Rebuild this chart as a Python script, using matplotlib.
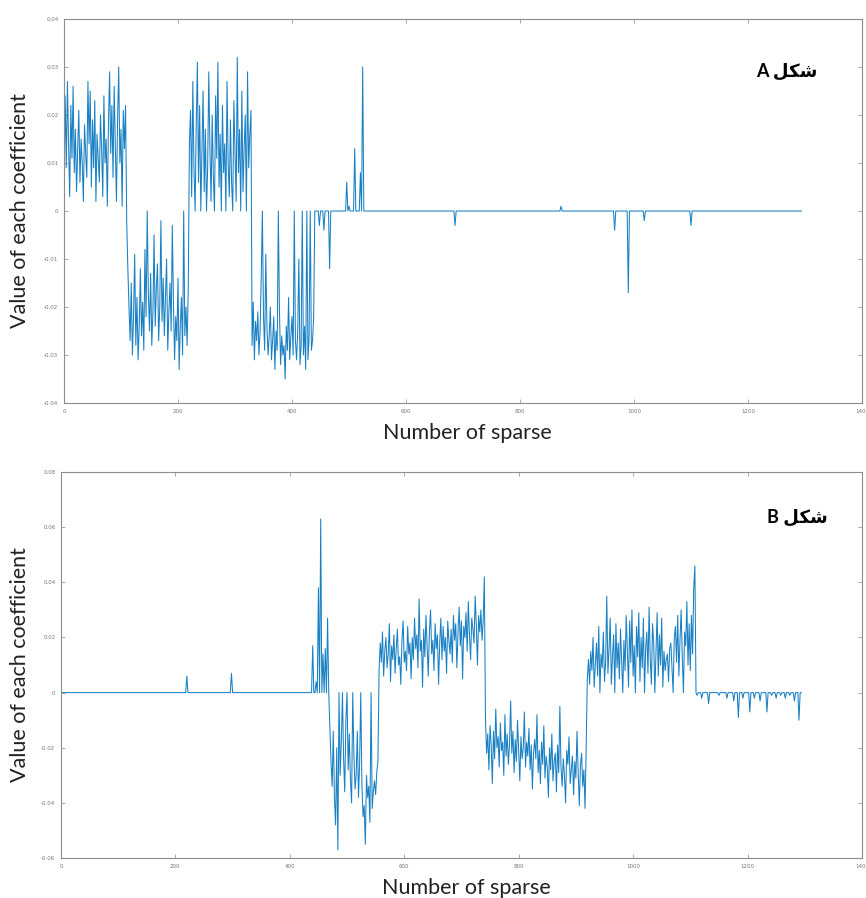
"""
sparse_coefficients.py
======================
Two panels showing the value of each sparse coefficient (A and B).
Values are in units of 1e-3 and were read by eye off the original figure.
Sample positions run on a grid of 2 (one entry per two coefficients).
"""

import numpy as np
import matplotlib.pyplot as plt
from matplotlib.ticker import FuncFormatter

STEP = 2
N_LAST = 1294

# ---- panel A ------------------------------------------------------------
a_seg_starts = [0, 110, 220, 330]
a_seg1 = [5, 24, 9, 27, 14, 3, 22, 11, 26, 8, 17, 4, 13, 21, 6, 15, 10, 2, 18, 12,
          7, 27, 14, 25, 5, 19, 9, 23, 2, 16, 11, 6, 20, 13, 3, 24, 10, 15, 1, 18,
          29, 12, 22, 7, 26, 14, 2, 19, 30, 10, 17, 1, 21, 13, 22]
a_seg2 = [-2, -12, -20, -27, -15, -30, -22, -9, -28, -18, -31, -24, -12, -26, -19,
          -29, -8, -22, 0, -17, -25, -13, -28, -21, -5, -24, -16, -11, -27, -20,
          -2, -23, -14, -26, -18, -10, -29, -21, -15, -25, -3, -19, -31, -22, -27,
          -14, -33, -24, -18, -30, 0, -26, -20, -28, -16]
a_seg3 = [14, 21, 3, 27, 9, 0, 18, 31, 6, 22, 0, 12, 25, 4, 17, 0, 9, 29, 13, 2,
          20, 7, 0, 24, 11, 31, 5, 16, 0, 22, 8, 14, 0, 27, 10, 3, 19, 6, 0, 23,
          12, 2, 32, 8, 17, 0, 25, 4, 13, 20, 0, 29, 9, 16, 21]
a_seg4 = [-28, -19, -31, -23, -27, -21, -30, -25, -14, 0, -22, -29, -9, -24, -30,
          -26, -20, -31, -27, -22, -33, -25, -29, 0, -21, -32, -26, -30, -28, -35,
          -24, -29, -18, -31, -26, -22, -30, 0, -27, -31, -25, -10, -32, -28, 0,
          -30, -24, -33, 0, -31, -26, 0, -29, -27, -22]
a_spike_x = [448, 456, 466, 496, 500, 510, 520, 524, 686, 872, 966, 990, 1018, 1100]
a_spike_y = [-3, -4, -12, 6, 1, 13, 8, 30, -3, 1, -4, -17, -2, -3]

# ---- panel B ------------------------------------------------------------
b_seg_starts = [470, 556, 742, 920]
b_seg1 = [-12, -25, -34, -14, -38, -48, -20, -57, 0, -30, -18, 0, -24, -36, -10,
          0, -28, -15, -32, -40, 0, -22, -35, -30, -14, -38, -26, 0, -33, -45,
          -41, -55, -30, -38, -34, -47, 0, -42, -36, -32, -37, -29, -25]
b_seg2 = [8, 18, 11, 22, 6, 15, 20, 9, 14, 25, 4, 17, 12, 21, 7, 16, 23, 10, 13, 3,
          19, 26, 11, 15, 8, 24, 14, 18, 5, 20, 12, 27, 16,
          21, 9, 34, 15, 19, 2, 23, 13, 28, 17, 6, 22, 30, 14, 19, 8, 25, 16, 21,
          3, 18, 27, 12, 24, 15, 20, 7, 26, 19, 14,
          23, 11, 28, 19, 25, 9, 22, 31, 17, 26, 5, 24, 20, 29, 15, 33, 21, 12, 27,
          23, 18, 35, 24, 10, 28, 22, 30, 19, 26, 42]
b_seg3 = [-10, -22, -15, -28, -12, -19, -33, -14, -24, -6, -20, -16, -27, -11, -21,
          -18, -30, -8, -23, -15, -26, -19, -3, -22, -14, -29, -17, -25, -10, -21,
          -32, -16, -24, -20, -7, -27, -18, -23, -13, -28, -19, -35, -22, -17,
          -24, -8, -29, -21, -33, -18, -26, -12, -31, -23, -27, -38, -20, -28, -15,
          -32, -25, -22, -36, -19, -29, -5, -27, -34, -24, -30, -40, -21, -26, -16,
          -33, -28, -23, -37, -25, -31, -14, -29, -41, -26, -22, -34, -28, -42, -20]
b_seg4 = [5, 12, 3, 15, 8, 20, 2, 10, 18, 6, 24, 0, 14, 9, 22, 4, 11, 35, 7, 16,
          27, 3, 13, 21, 0, 25, 9, 18, 5, 23, 12, 0, 19, 8, 28, 15, 2, 26, 11, 30,
          6, 17, 0, 24, 13, 29, 4, 20, 9, 27, 0, 16, 22, 7, 31, 12, 3, 25, 18, 0,
          14, 29, 6, 21, 10, 27, 2, 15, 8, 12, 14, 4, 16, 18, 9, 0, 20, 24, 11, 28,
          6, 19, 30, 13, 0, 22, 17, 33, 10, 25, 8, 28, 14, 38, 46]
b_spike_x = [220, 298, 440, 446, 450, 454, 458, 462, 466,
             1112, 1120, 1132, 1150, 1164, 1176, 1184, 1192, 1204, 1212, 1222,
             1234, 1242, 1250, 1258, 1266, 1274, 1282, 1290]
b_spike_y = [6, 7, 17, 4, 38, 63, 14, 16, 27,
             -1, -2, -4, -1, -2, -3, -9, -2, -7, -2, -3,
             -7, -1, -2, -1, -2, -1, -3, -10]

a_yticks = [-0.04, -0.03, -0.02, -0.01, 0, 0.01, 0.02, 0.03, 0.04]
b_yticks = [-0.06, -0.04, -0.02, 0, 0.02, 0.04, 0.06, 0.08]
x_ticks = [0, 200, 400, 600, 800, 1000, 1200, 1400]

LINE_COLOR = "#0072BD"
LABEL_FONT = ["Lato", "DejaVu Sans"]
# Arabic "شکل" in presentation forms, visual (left-to-right) order
SHEKL = "\uFEDE\uFB91\uFEB7"


def build_signal(starts, segments, spike_x, spike_y):
    """Place the hand-read segments and spikes on a zero baseline."""
    x = np.arange(0, N_LAST + 1, STEP)
    y = np.zeros(len(x))
    for start, seg in zip(starts, segments):
        i0 = start // STEP
        y[i0:i0 + len(seg)] = seg
    for sx, sy in zip(spike_x, spike_y):
        y[sx // STEP] = sy
    return x, y * 1e-3


def style_axes(ax, yticks, label_x):
    ax.set_xlim(0, 1400)
    ax.set_ylim(yticks[0], yticks[-1])
    ax.set_xticks(x_ticks)
    ax.set_yticks(yticks)
    ax.yaxis.set_major_formatter(FuncFormatter(lambda v, _: f"{v:g}"))
    ax.tick_params(direction="in", length=3, width=0.5, top=True, right=True,
                   labelsize=4, labelcolor="#777777", color="#888888", pad=4)
    for sp in ax.spines.values():
        sp.set_color("#8c8c8c")
        sp.set_linewidth(0.8)

    ax.set_xlabel("Number of sparse", fontsize=15.5, family=LABEL_FONT, color="#222222")
    ax.set_ylabel("Value of each coefficient", fontsize=15.5, family=LABEL_FONT,
                  color="#222222")
    ax.xaxis.label.set_va("center")
    ax.yaxis.label.set_va("center")
    ax.xaxis.set_label_coords(0.506, -0.077)
    ax.yaxis.set_label_coords(label_x, 0.5)


def main():
    fig = plt.figure(figsize=(8.66, 8.98), dpi=100)
    ax_a = fig.add_axes([0.0739, 0.5512, 0.9215, 0.4276])
    ax_b = fig.add_axes([0.0704, 0.0445, 0.9249, 0.4298])

    xa, ya = build_signal(a_seg_starts, [a_seg1, a_seg2, a_seg3, a_seg4],
                          a_spike_x, a_spike_y)
    xb, yb = build_signal(b_seg_starts, [b_seg1, b_seg2, b_seg3, b_seg4],
                          b_spike_x, b_spike_y)

    ax_a.plot(xa, ya, color=LINE_COLOR, lw=0.75, alpha=0.9)
    ax_b.plot(xb, yb, color=LINE_COLOR, lw=0.75, alpha=0.9)

    style_axes(ax_a, a_yticks, -0.055)
    style_axes(ax_b, b_yticks, -0.051)

    ax_a.text(0.906, 0.864, "A " + SHEKL, transform=ax_a.transAxes, ha="center",
              va="center", fontsize=13, fontweight="bold", family=LABEL_FONT)
    ax_b.text(0.919, 0.883, "B " + SHEKL, transform=ax_b.transAxes, ha="center",
              va="center", fontsize=13, fontweight="bold", family=LABEL_FONT)

    fig.savefig("out.png", dpi=100)
    plt.close(fig)


if __name__ == "__main__":
    main()
